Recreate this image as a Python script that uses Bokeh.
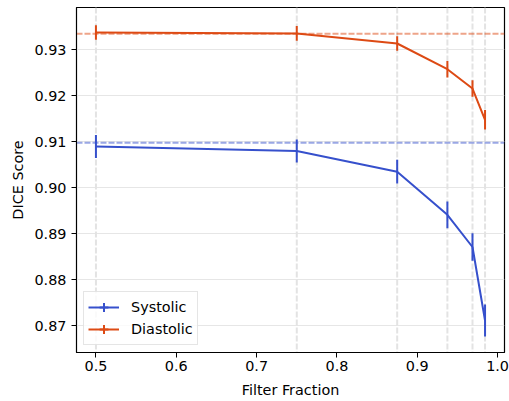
from bokeh.plotting import figure
from bokeh.models import (Range1d, FixedTicker, PrintfTickFormatter, Span,
                          Legend, LegendItem, ColumnDataSource)
from bokeh.embed import file_html
from bokeh.resources import INLINE

# ---- data ----
filter_fraction = [0.5, 0.75, 0.875, 0.9375, 0.96875, 0.984375]
systolic = [0.9090, 0.9080, 0.9035, 0.8941, 0.8871, 0.8711]
systolic_err = [0.0025, 0.0025, 0.0026, 0.0029, 0.0030, 0.0035]
diastolic = [0.9338, 0.9336, 0.9314, 0.9258, 0.9216, 0.9148]
diastolic_err = [0.0016, 0.0016, 0.0016, 0.0018, 0.0018, 0.0021]
systolic_ref = 0.9098
diastolic_ref = 0.9335
x_ticks = [0.5, 0.6, 0.7, 0.8, 0.9, 1.0]
y_ticks = [0.87, 0.88, 0.89, 0.90, 0.91, 0.92, 0.93]

BLUE = "#3650cc"
ORANGE = "#dd4a14"
FONT = "DejaVu Sans"
FS = "14.4px"

p = figure(width=509, height=401, output_backend="svg", toolbar_location=None,
           x_range=Range1d(0.4758, 1.0086), y_range=Range1d(0.86413, 0.93924),
           min_border_left=76, min_border_right=5, min_border_top=7,
           min_border_bottom=49)
p.background_fill_color = "white"
p.border_fill_color = "white"
p.outline_line_color = "black"
p.outline_line_width = 1.2

p.xgrid.visible = False
p.ygrid.grid_line_color = "#e6e6e6"
p.ygrid.grid_line_width = 1
p.ygrid.ticker = FixedTicker(ticks=y_ticks)

for ax, ticks, fmt in ((p.xaxis[0], x_ticks, "%.1f"), (p.yaxis[0], y_ticks, "%.2f")):
    ax.ticker = FixedTicker(ticks=ticks)
    ax.formatter = PrintfTickFormatter(format=fmt)
    ax.major_tick_out = 5
    ax.major_tick_in = 0
    ax.minor_tick_line_color = None
    ax.axis_line_color = "black"
    ax.major_tick_line_color = "black"
    ax.major_label_text_font = FONT
    ax.major_label_text_font_size = FS
    ax.major_label_text_font_style = "normal"
    ax.major_label_text_color = "black"
    ax.axis_label_text_font = FONT
    ax.axis_label_text_font_size = FS
    ax.axis_label_text_font_style = "normal"
    ax.axis_label_text_color = "black"

p.xaxis.axis_label = "Filter Fraction"
p.yaxis.axis_label = "DICE Score"
p.xaxis.major_label_standoff = 3
p.xaxis.axis_label_standoff = 8
p.yaxis.major_label_standoff = 5
p.yaxis.axis_label_standoff = 5

DASH = "6 2"

# vertical dashed markers at each filter fraction
for xf in filter_fraction:
    p.add_layout(Span(location=xf, dimension="height", line_color="#e3e3e3",
                      line_width=2, line_dash=DASH, level="underlay"))

# reference lines
p.add_layout(Span(location=systolic_ref, dimension="width", line_color=BLUE,
                  line_alpha=0.5, line_width=2, line_dash=DASH, level="underlay"))
p.add_layout(Span(location=diastolic_ref, dimension="width", line_color=ORANGE,
                  line_alpha=0.5, line_width=2, line_dash=DASH, level="underlay"))

items = []
for name, vals, errs, col in (("Systolic", systolic, systolic_err, BLUE),
                              ("Diastolic", diastolic, diastolic_err, ORANGE)):
    src = ColumnDataSource(dict(
        x=filter_fraction, y=vals,
        lo=[v - e for v, e in zip(vals, errs)],
        hi=[v + e for v, e in zip(vals, errs)]))
    ln = p.line("x", "y", source=src, line_color=col, line_width=2)
    sg = p.segment(x0="x", x1="x", y0="lo", y1="hi", source=src,
                   line_color=col, line_width=2)
    # legend-only errorbar tick (hidden in the plot area)
    mk = p.scatter("x", "y", source=src, marker="cross", size=12,
                   line_color=col, line_width=2, fill_color=None, visible=False)
    items.append(LegendItem(label=name, renderers=[ln, mk]))

legend = Legend(items=items, location="bottom_left", margin=7, padding=4,
                spacing=-1, glyph_width=31, glyph_height=22, label_height=22,
                label_standoff=12, label_text_font=FONT, label_text_font_size=FS,
                label_text_color="black",
                border_line_color="#cccccc", border_line_width=1,
                background_fill_alpha=0.8)
p.add_layout(legend)

open("out.html", "w").write(file_html(p, INLINE))
